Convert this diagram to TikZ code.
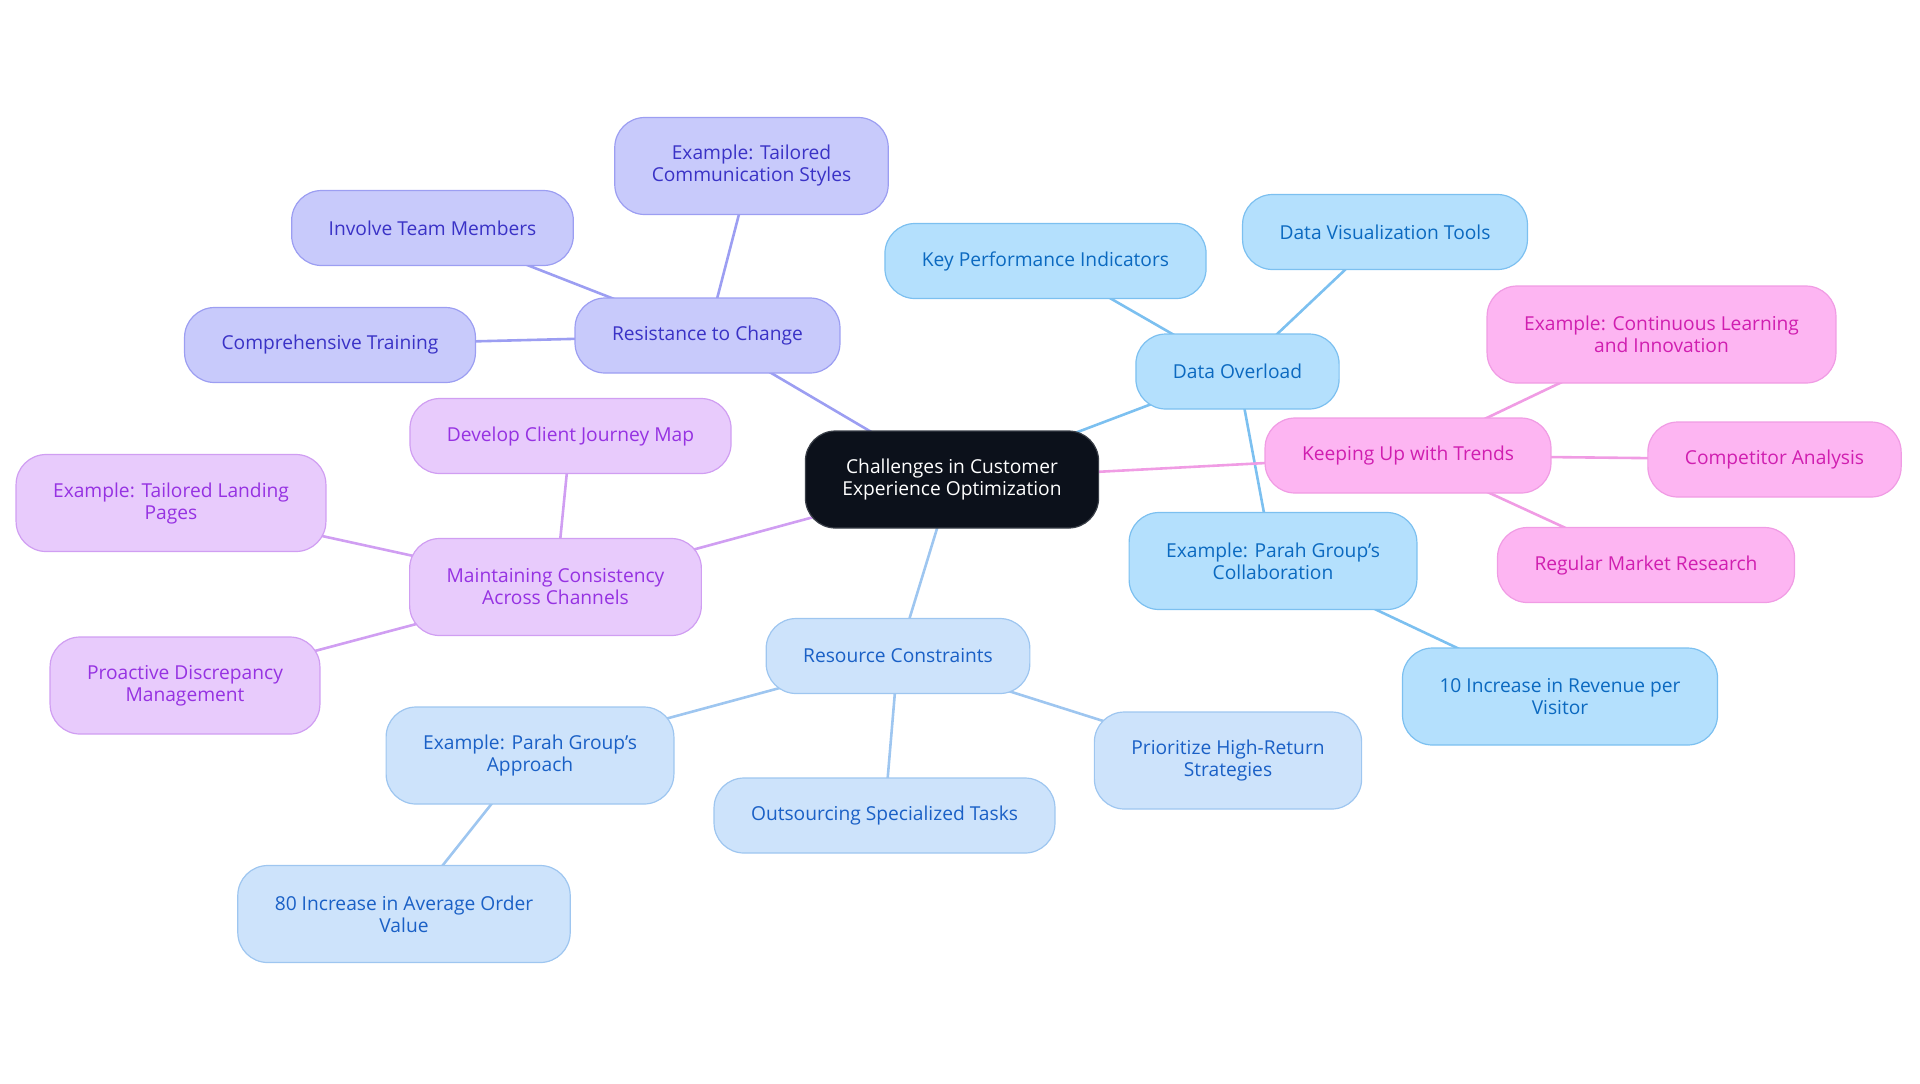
\documentclass[tikz,border=0pt]{standalone}
\usepackage{fontspec}
\setmainfont{Open Sans}
\usetikzlibrary{backgrounds}

\definecolor{rootfill}{HTML}{0C111B}
\definecolor{rootline}{HTML}{3A3F48}
\definecolor{resfill}{HTML}{C8CAFB}
\definecolor{resline}{HTML}{9C9EF2}
\definecolor{restext}{HTML}{3A32C6}
\definecolor{mntfill}{HTML}{E8CBFC}
\definecolor{mntline}{HTML}{D09EF2}
\definecolor{mnttext}{HTML}{9632E2}
\definecolor{datfill}{HTML}{B4E0FD}
\definecolor{datline}{HTML}{7CC0F0}
\definecolor{dattext}{HTML}{0B69C0}
\definecolor{srcfill}{HTML}{CDE3FB}
\definecolor{srcline}{HTML}{9EC6F0}
\definecolor{srctext}{HTML}{1A60C6}
\definecolor{trdfill}{HTML}{FDB5F2}
\definecolor{trdline}{HTML}{F09CE4}
\definecolor{trdtext}{HTML}{D01EB0}

\begin{document}
\begin{tikzpicture}[x=0.5pt,y=-0.5pt,
        box/.style={rounded corners=15pt,draw,line width=0.6pt,align=center,
            inner xsep=18.5pt,inner ysep=2pt,minimum height=37.5pt,
            font=\fontsize{9.6}{11}\selectfont},
        tall/.style={minimum height=48.5pt},
        root/.style={box,fill=rootfill,draw=rootline,text=white},
        resbox/.style={box,fill=resfill,draw=resline,text=restext},
        mntbox/.style={box,fill=mntfill,draw=mntline,text=mnttext},
        datbox/.style={box,fill=datfill,draw=datline,text=dattext},
        srcbox/.style={box,fill=srcfill,draw=srcline,text=srctext},
        trdbox/.style={box,fill=trdfill,draw=trdline,text=trdtext},
        link/.style={line width=1.3pt}]
\useasboundingbox (0,0) rectangle (1920,1083);

\node[root,tall] (root) at (952,479.5) {Challenges in Customer\\Experience Optimization};

\node[resbox] (res) at (707.5,335.5) {Resistance to Change};
\node[resbox,tall] (comm) at (751.5,166) {Example: Tailored\\Communication Styles};
\node[resbox] (involve) at (432.5,228) {Involve Team Members};
\node[resbox] (training) at (330,345) {Comprehensive Training};

\node[mntbox,tall] (mnt) at (555.5,587) {Maintaining Consistency\\Across Channels};
\node[mntbox] (journey) at (570.5,436) {Develop Client Journey Map};
\node[mntbox,tall] (landing) at (171,503) {Example: Tailored Landing\\Pages};
\node[mntbox,tall] (proactive) at (185,685.5) {Proactive Discrepancy\\Management};

\node[datbox] (dat) at (1237.5,371.5) {Data Overload};
\node[datbox] (kpi) at (1045.5,261) {Key Performance Indicators};
\node[datbox] (viz) at (1385,232) {Data Visualization Tools};
\node[datbox,tall] (collab) at (1273,561) {Example: Parah Group’s\\Collaboration};
\node[datbox,tall] (revenue) at (1560,696.5) {10 Increase in Revenue per\\Visitor};

\node[trdbox] (trd) at (1408,455.5) {Keeping Up with Trends};
\node[trdbox,tall] (learning) at (1661.5,334.5) {Example: Continuous Learning\\and Innovation};
\node[trdbox] (rival) at (1774.5,459.5) {Competitor Analysis};
\node[trdbox] (market) at (1646,565) {Regular Market Research};

\node[srcbox] (src) at (898,656) {Resource Constraints};
\node[srcbox,tall] (approach) at (530,755.5) {Example: Parah Group’s\\Approach};
\node[srcbox,tall] (order) at (404,914) {80 Increase in Average Order\\Value};
\node[srcbox] (outsource) at (884.5,815.5) {Outsourcing Specialized Tasks};
\node[srcbox,tall] (priority) at (1228,760.5) {Prioritize High-Return\\Strategies};

\begin{pgfonlayer}{background}
\draw[link,resline] (root.center) -- (res.center);
\draw[link,resline] (res.center) -- (comm.center);
\draw[link,resline] (res.center) -- (involve.center);
\draw[link,resline] (res.center) -- (training.center);

\draw[link,mntline] (root.center) -- (mnt.center);
\draw[link,mntline] (mnt.center) -- (journey.center);
\draw[link,mntline] (mnt.center) -- (landing.center);
\draw[link,mntline] (mnt.center) -- (proactive.center);

\draw[link,datline] (root.center) -- (dat.center);
\draw[link,datline] (dat.center) -- (kpi.center);
\draw[link,datline] (dat.center) -- (viz.center);
\draw[link,datline] (dat.center) -- (collab.center);
\draw[link,datline] (collab.center) -- (revenue.center);

\draw[link,srcline] (root.center) -- (src.center);
\draw[link,srcline] (src.center) -- (approach.center);
\draw[link,srcline] (approach.center) -- (order.center);
\draw[link,srcline] (src.center) -- (outsource.center);
\draw[link,srcline] (src.center) -- (priority.center);

\draw[link,trdline] (root.center) -- (trd.center);
\draw[link,trdline] (trd.center) -- (learning.center);
\draw[link,trdline] (trd.center) -- (rival.center);
\draw[link,trdline] (trd.center) -- (market.center);
\end{pgfonlayer}
\end{tikzpicture}
\end{document}
